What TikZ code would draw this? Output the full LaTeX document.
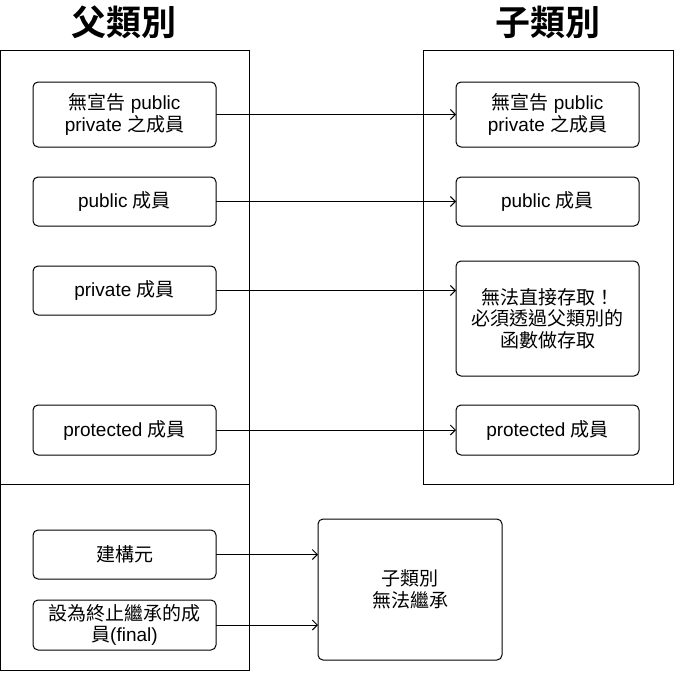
\documentclass[tikz,border=0pt]{standalone}
\usepackage{fontspec}
\setmainfont{Liberation Sans}
\newfontfamily\cjk[BoldFont={Noto Sans CJK TC Bold}]{Noto Sans CJK TC}
\usetikzlibrary{arrows.meta}
\begin{document}
\begin{tikzpicture}[x=1pt,y=-1pt,
  every node/.style={inner sep=0pt,outer sep=0pt},
  bigbox/.style={draw=black,line width=1pt,rectangle},
  item/.style={draw=black,line width=1pt,rounded corners=5pt,rectangle,minimum width=183pt,align=center,font=\fontsize{19}{21.5}\selectfont},
  ttl/.style={font=\fontsize{35}{40}\selectfont\cjk\bfseries},
  arr/.style={draw=black,line width=0.9pt,-{Straight Barb[length=5pt,width=10pt]}}]
\useasboundingbox (0,0) rectangle (674,672);
% titles
\node[ttl] (tp) at (124,22) {父類別};
\node[ttl] (tc) at (548,22) {子類別};
% outer boxes
\node[bigbox,minimum width=249pt,minimum height=434pt] (ptop) at (125,267) {};
\node[bigbox,minimum width=249pt,minimum height=186pt] (pbot) at (125,577) {};
\node[bigbox,minimum width=250pt,minimum height=434pt] (cbox) at (548,267) {};
% left items
\node[item,minimum height=65pt] (l1) at (124.5,114.5) {{\cjk 無宣告} public\\private {\cjk 之成員}};
\node[item,minimum height=49pt] (l2) at (124.5,201.5) {public {\cjk 成員}};
\node[item,minimum height=49pt] (l3) at (124.5,290.5) {private {\cjk 成員}};
\node[item,minimum height=50pt] (l4) at (124.5,430) {protected {\cjk 成員}};
\node[item,minimum height=49pt] (l5) at (124.5,554.5) {\cjk 建構元};
\node[item,minimum height=50pt] (l6) at (124.5,625) {{\cjk 設為終止繼承的成}\\{\cjk 員}(final)};
% right items
\node[item,minimum height=65pt] (r1) at (547.5,114.5) {{\cjk 無宣告} public\\private {\cjk 之成員}};
\node[item,minimum height=49pt] (r2) at (547.5,201.5) {public {\cjk 成員}};
\node[item,minimum height=115pt] (r3) at (547.5,318.5) {\cjk 無法直接存取！\\\cjk 必須透過父類別的\\\cjk 函數做存取};
\node[item,minimum height=50pt] (r4) at (547.5,430) {protected {\cjk 成員}};
\node[item,minimum width=184pt,minimum height=141pt] (nb) at (410,589.5) {\cjk 子類別\\\cjk 無法繼承};
% arrows
\draw[arr] (l1.east) -- (r1.west);
\draw[arr] (l2.east) -- (r2.west);
\draw[arr] (l3.east) -- (l3.east -| r3.west);
\draw[arr] (l4.east) -- (r4.west);
\draw[arr] (l5.east) -- (l5.east -| nb.west);
\draw[arr] (l6.east) -- (l6.east -| nb.west);
\end{tikzpicture}
\end{document}
